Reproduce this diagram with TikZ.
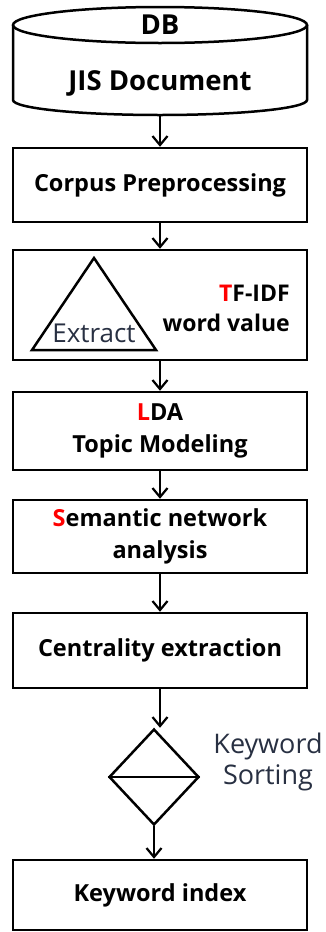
\documentclass[tikz,border=0pt]{standalone}
\usepackage{fontspec}
\setmainfont{Open Sans}
\usetikzlibrary{arrows.meta,shapes.geometric}
\definecolor{slate}{RGB}{40,48,66}
\definecolor{hot}{RGB}{255,0,0}
\begin{document}
\begin{tikzpicture}[x=1pt,y=-1pt,
  line width=2.5pt,
  lbl/.style={font=\fontsize{23.5}{32}\selectfont\bfseries, text=black, align=center, inner sep=0pt},
  stepbox/.style={draw, rectangle, minimum width=294pt, inner sep=0pt},
  arr/.style={-{Straight Barb[length=9pt,width=15pt,line width=2.2pt]}},
  soft/.style={font=\fontsize{27}{31}\selectfont, text=slate, inner sep=0pt, align=center}]
\useasboundingbox (0,0) rectangle (325,932);

% database cylinder
\node[inner sep=0pt, minimum width=294pt, minimum height=108pt] (db) at (160,61) {};
\draw (13,25) -- (13,100) arc[start angle=180, end angle=360, x radius=147pt, y radius=15pt] -- (307,25);
\draw (160,25) ellipse[x radius=147pt, y radius=18pt];
\node[lbl, font=\fontsize{27.5}{32}\selectfont\bfseries] (dbl) at (160,25) {DB};
\node[lbl, font=\fontsize{27.5}{32}\selectfont\bfseries] (jis) at (160,83) {JIS Document};

% processing steps
\node[stepbox, minimum height=74pt] (corp) at (160,185) {};
\node[lbl] at (corp) {Corpus Preprocessing};

\node[stepbox, minimum height=110pt] (tfidf) at (160,305) {};
\draw (94,258) -- (156,350) -- (32,350) -- cycle;
\node[soft, font=\fontsize{26}{30}\selectfont] (ext) at (94,333) {Extract};
\node[lbl, anchor=east, align=right, font=\fontsize{23}{30}\selectfont\bfseries] (tft) at (291,308) {\textcolor{hot}{T}F-IDF\\word value};

\node[stepbox, minimum height=78pt] (lda) at (160,431) {};
\node[lbl] (ldat) at (lda) {\textcolor{hot}{L}DA\\Topic Modeling};

\node[stepbox, minimum height=73pt] (sem) at (160,536.5) {};
\node[lbl] (semt) at (sem) {\textcolor{hot}{S}emantic network\\analysis};

\node[stepbox, minimum height=75pt] (cent) at (160,650.5) {};
\node[lbl] (centt) at (cent) {Centrality extraction};

% sorting step
\node[draw, diamond, inner sep=0pt, minimum width=90pt, minimum height=96pt] (sort) at (154,777) {};
\draw (sort.west) -- (sort.east);
\node[soft] (sortt) at (268,762) {Keyword\\Sorting};

\node[stepbox, minimum height=70pt] (kw) at (160,895) {};
\node[lbl] (kwt) at (kw) {Keyword index};

% connectors
\draw[arr] (db.south) -- (corp.north);
\draw[arr] (corp.south) -- (tfidf.north);
\draw[arr] (tfidf.south) -- (lda.north);
\draw[arr] (lda.south) -- (sem.north);
\draw[arr] (sem.south) -- (cent.north);
\draw[arr] (cent.south) -- (cent.south |- sort.north);
\draw[arr] (sort.south) -- (sort.south |- kw.north);
\end{tikzpicture}
\end{document}
